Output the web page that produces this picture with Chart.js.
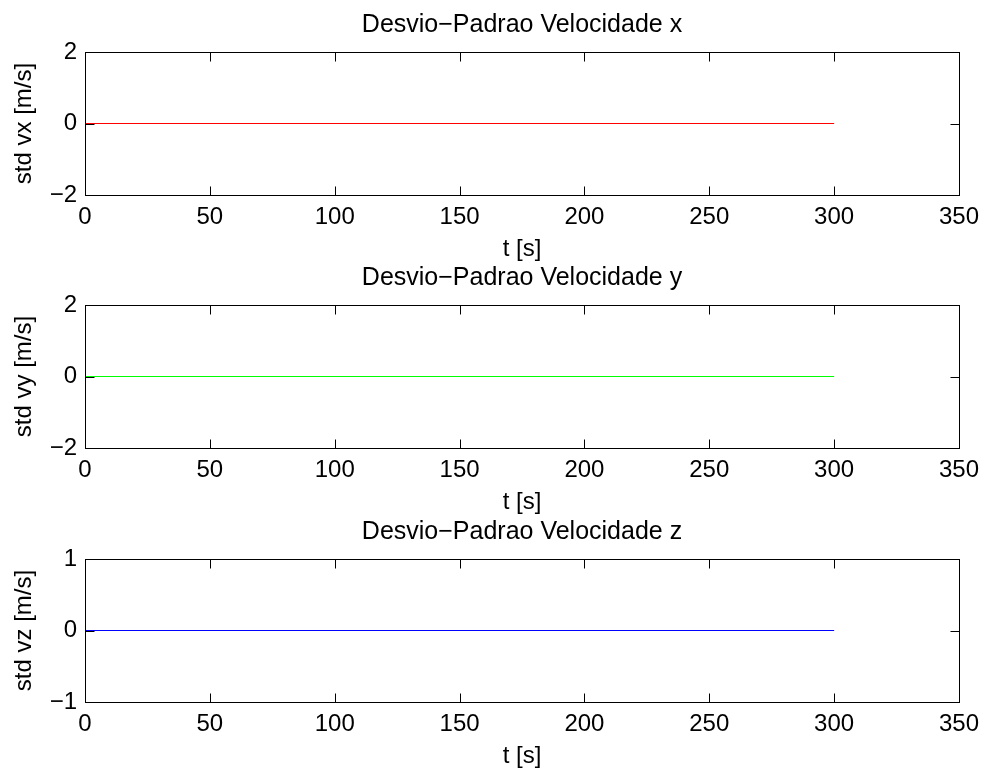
<!DOCTYPE html>
<html>
<head>
<meta charset="utf-8">
<title>Desvio-Padrao Velocidade</title>
<script src="https://cdn.jsdelivr.net/npm/chart.js@4.4.1/dist/chart.umd.min.js"></script>
<style>
body { margin: 0; background: #fff; }
#wrap { position: relative; width: 984px; height: 772px; overflow: hidden; }
#wrap canvas { position: absolute; left: 0; }
</style>
</head>
<body>
<div id="wrap">
<canvas id="plotVx" width="984" height="265" style="top:0px"></canvas>
<canvas id="plotVy" width="984" height="265" style="top:253px"></canvas>
<canvas id="plotVz" width="984" height="265" style="top:507px"></canvas>
</div>
<script>
// time samples [s] and standard deviation of each velocity component [m/s]
const timeSec = [0, 50, 100, 150, 200, 250, 300];
const stdVx = [0, 0, 0, 0, 0, 0, 0];
const stdVy = [0, 0, 0, 0, 0, 0, 0];
const stdVz = [0, 0, 0, 0, 0, 0, 0];

const tTicks = [0, 50, 100, 150, 200, 250, 300, 350];
const vxyTicks = [-2, 0, 2];
const vzTicks = [-1, 0, 1];

const FONT = "'Liberation Sans', Arial, Helvetica, sans-serif";
const TICK_LEN = 9;

function minusLabel(v) {
  return v < 0 ? "\u2212" + Math.abs(v) : String(v);
}

// matlab style box with inward ticks on all four sides, title centred on the axes
const boxTicks = {
  id: "boxTicks",
  afterDraw(chart, args, opts) {
    const ctx = chart.ctx;
    const a = chart.chartArea;
    const xs = chart.scales.x;
    const ys = chart.scales.y;
    const l = Math.round(a.left) + 0.5;
    const r = Math.round(a.right) + 0.5;
    const t = Math.round(a.top) + 0.5;
    const b = Math.round(a.bottom) + 0.5;
    ctx.save();
    ctx.strokeStyle = "#000";
    ctx.lineWidth = 1;
    ctx.beginPath();
    xs.ticks.forEach(tk => {
      const px = Math.round(xs.getPixelForValue(tk.value)) + 0.5;
      ctx.moveTo(px, b);
      ctx.lineTo(px, b - TICK_LEN);
      ctx.moveTo(px, t);
      ctx.lineTo(px, t + TICK_LEN);
    });
    ys.ticks.forEach(tk => {
      const py = Math.round(ys.getPixelForValue(tk.value)) + 0.5;
      ctx.moveTo(l, py);
      ctx.lineTo(l + TICK_LEN, py);
      ctx.moveTo(r, py);
      ctx.lineTo(r - TICK_LEN, py);
    });
    ctx.stroke();
    ctx.strokeRect(l, t, r - l, b - t);
    if (opts.text) {
      ctx.fillStyle = "#000";
      ctx.font = "25px " + FONT;
      ctx.textAlign = "center";
      ctx.textBaseline = "alphabetic";
      ctx.fillText(opts.text, (a.left + a.right) / 2, a.top - 20);
    }
    ctx.restore();
  }
};

function makePlot(id, title, yLabel, values, color, yTicks) {
  const points = [];
  for (let i = 0; i < timeSec.length; i++) {
    points.push({ x: timeSec[i], y: values[i] });
  }
  return new Chart(document.getElementById(id), {
    type: "line",
    data: {
      datasets: [
        {
          data: points,
          borderColor: color,
          borderWidth: 1.2,
          pointRadius: 0,
          tension: 0,
          fill: false
        }
      ]
    },
    options: {
      responsive: false,
      animation: false,
      events: [],
      layout: {
        autoPadding: false,
        padding: { left: 0, right: 25, top: 52, bottom: 0 }
      },
      plugins: {
        legend: { display: false },
        tooltip: { enabled: false },
        title: { display: false },
        boxTicks: { text: title }
      },
      scales: {
        x: {
          type: "linear",
          min: tTicks[0],
          max: tTicks[tTicks.length - 1],
          afterBuildTicks: s => { s.ticks = tTicks.map(v => ({ value: v })); },
          afterFit: s => {
            s.height = 70;
            s.paddingLeft = 0;
            s.paddingRight = 0;
          },
          grid: { display: false, drawTicks: false },
          border: { display: false },
          ticks: {
            autoSkip: false,
            maxRotation: 0,
            padding: 8,
            color: "#000",
            font: { family: FONT, size: 24, lineHeight: 1.2 },
            callback: v => minusLabel(v)
          },
          title: {
            display: true,
            text: "t [s]",
            color: "#000",
            font: { family: FONT, size: 24, lineHeight: 1.2 },
            padding: { top: 0, bottom: 1.5 }
          }
        },
        y: {
          type: "linear",
          min: yTicks[0],
          max: yTicks[yTicks.length - 1],
          afterBuildTicks: s => { s.ticks = yTicks.map(v => ({ value: v })); },
          afterFit: s => {
            s.width = 85;
            s.paddingTop = 0;
            s.paddingBottom = 0;
          },
          grid: { display: false, drawTicks: false },
          border: { display: false },
          ticks: {
            padding: 8,
            color: "#000",
            font: { family: FONT, size: 24, lineHeight: 1.2 },
            callback: v => minusLabel(v)
          },
          title: {
            display: true,
            text: yLabel,
            color: "#000",
            font: { family: FONT, size: 24, lineHeight: 1.2 },
            padding: { top: 10, bottom: 0 }
          }
        }
      }
    },
    plugins: [boxTicks]
  });
}

makePlot("plotVx", "Desvio\u2212Padrao Velocidade x", "std vx [m/s]", stdVx, "#ff0000", vxyTicks);
makePlot("plotVy", "Desvio\u2212Padrao Velocidade y", "std vy [m/s]", stdVy, "#00ff00", vxyTicks);
makePlot("plotVz", "Desvio\u2212Padrao Velocidade z", "std vz [m/s]", stdVz, "#0000ff", vzTicks);
</script>
</body>
</html>
